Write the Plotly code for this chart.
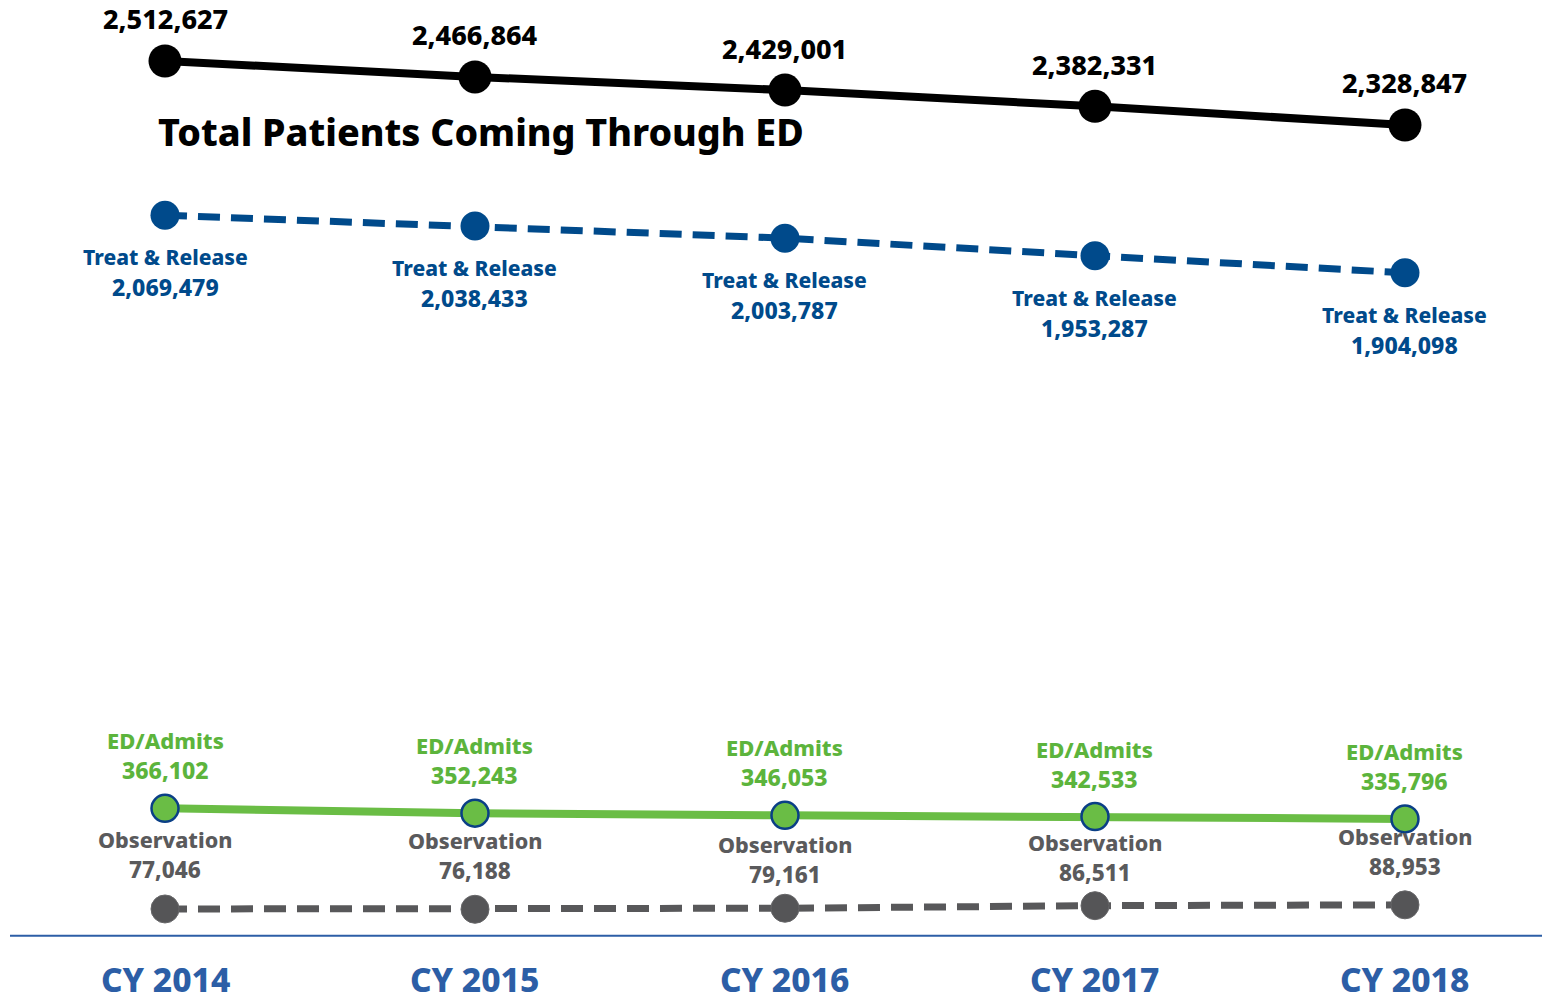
import plotly.graph_objects as go

years = [2014, 2015, 2016, 2017, 2018]
year_labels = ["CY 2014", "CY 2015", "CY 2016", "CY 2017", "CY 2018"]
total = [2512627, 2466864, 2429001, 2382331, 2328847]
treat_release = [2069479, 2038433, 2003787, 1953287, 1904098]
ed_admits = [366102, 352243, 346053, 342533, 335796]
observation = [77046, 76188, 79161, 86511, 88953]

FONT = "Noto Sans"
W = 800
BLACK = "#000000"
NAVY = "#004a8b"
GREEN = "#6abd45"
GREEN_TXT = "#5cb43c"
GRAY = "#555557"
GRAY_TXT = "#5a5a5c"
BLUE_AX = "#2c5ea6"

fig = go.Figure()

fig.add_trace(go.Scatter(
    x=years, y=observation, mode="lines+markers",
    line=dict(color="#58585a", width=7, dash="22px,11px"),
    marker=dict(size=28, color=GRAY, line=dict(color="#666668", width=1)),
))
fig.add_trace(go.Scatter(
    x=years, y=ed_admits, mode="lines+markers",
    line=dict(color=GREEN, width=8),
    marker=dict(size=27, color=GREEN, line=dict(color="#0a3f86", width=2.5)),
))
fig.add_trace(go.Scatter(
    x=years, y=treat_release, mode="lines+markers",
    line=dict(color=NAVY, width=7, dash="22px,11px"),
    marker=dict(size=29, color=NAVY),
))
fig.add_trace(go.Scatter(
    x=years, y=total, mode="lines+markers",
    line=dict(color=BLACK, width=8),
    marker=dict(size=33, color=BLACK),
))


def label(x, y, text, shift, size, color):
    return dict(x=x, y=y, text=text, showarrow=False, yshift=shift,
                yanchor="middle", xanchor="center",
                font=dict(family=FONT, size=size, color=color, weight=W))


ann = []
for x, v in zip(years, total):
    ann.append(label(x, v, f"{v:,}", 42, 27, BLACK))
for x, v in zip(years, treat_release):
    ann.append(label(x, v, "Treat &amp; Release", -42, 21, NAVY))
    ann.append(label(x, v, f"{v:,}", -72, 23, NAVY))
for x, v in zip(years, ed_admits):
    ann.append(label(x, v, "ED/Admits", 68, 22, GREEN_TXT))
    ann.append(label(x, v, f"{v:,}", 38, 23, GREEN_TXT))
obs_shift = [69, 69, 64, 63, 68]
for x, v, s in zip(years, observation, obs_shift):
    ann.append(label(x, v, "Observation", s, 21.5, GRAY_TXT))
    ann.append(label(x, v, f"{v:,}", s - 30, 22.5, GRAY_TXT))
for x, lab in zip(years, year_labels):
    ann.append(label(x, 0, lab, -43, 33.5, BLUE_AX))
ann.append(dict(xref="paper", yref="paper", x=0.0955, y=0.869,
                text="Total Patients Coming Through ED", showarrow=False,
                xanchor="left", yanchor="middle",
                font=dict(family=FONT, size=37.6, color=BLACK, weight=W)))

fig.update_layout(
    width=1542, height=1002,
    margin=dict(l=10, r=0, t=0, b=0),
    paper_bgcolor="white", plot_bgcolor="white",
    showlegend=False,
    annotations=ann,
    xaxis=dict(range=[2013.5, 2018.442], visible=False, fixedrange=True),
    yaxis=dict(range=[-190140, 2687800], visible=False, fixedrange=True),
    shapes=[dict(type="line", xref="paper", yref="y", x0=0, x1=1, y0=0, y1=0,
                 line=dict(color=BLUE_AX, width=2))],
)

fig.write_html("out.html", config={"displayModeBar": False},
               post_script="document.body.style.margin='0';")
